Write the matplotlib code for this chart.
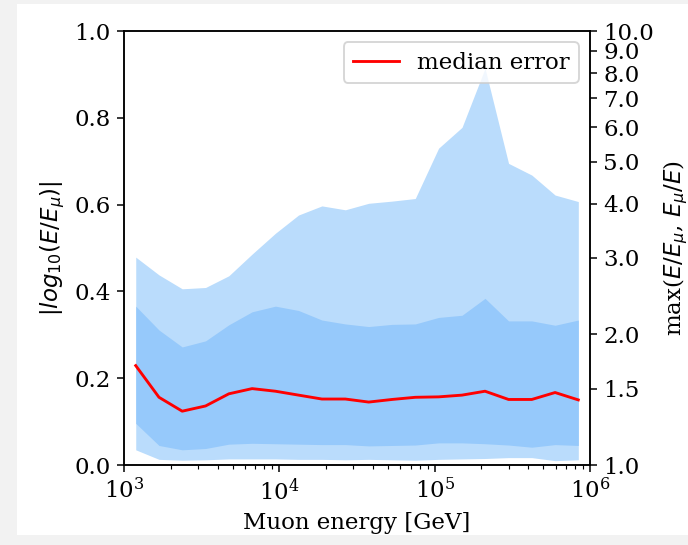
import matplotlib
matplotlib.use("Agg")
import matplotlib.pyplot as plt
import numpy as np
from matplotlib.patches import Rectangle

plt.rcParams["font.family"] = "serif"
plt.rcParams["font.size"] = 12

# bin centres in muon energy [GeV]
energy = [1190, 1680, 2370, 3350, 4730, 6680, 9440, 13300, 18800, 26600,
          37600, 53100, 75000, 106000, 150000, 211000, 299000, 422000, 596000, 841000]

# |log10(E/E_mu)| per bin
median_err = [0.229, 0.156, 0.124, 0.136, 0.164, 0.176, 0.170, 0.161, 0.152, 0.152,
              0.145, 0.151, 0.156, 0.157, 0.161, 0.170, 0.151, 0.151, 0.167, 0.150]
inner_lo = [0.096, 0.045, 0.035, 0.038, 0.048, 0.050, 0.049, 0.048, 0.047, 0.047,
            0.044, 0.045, 0.046, 0.051, 0.051, 0.049, 0.046, 0.041, 0.047, 0.045]
inner_hi = [0.366, 0.311, 0.272, 0.286, 0.323, 0.353, 0.366, 0.356, 0.334, 0.325,
            0.319, 0.324, 0.325, 0.340, 0.345, 0.384, 0.332, 0.332, 0.322, 0.334]
outer_lo = [0.035, 0.013, 0.011, 0.012, 0.014, 0.014, 0.014, 0.013, 0.013, 0.012,
            0.013, 0.012, 0.011, 0.013, 0.014, 0.015, 0.017, 0.017, 0.010, 0.012]
outer_hi = [0.479, 0.438, 0.406, 0.409, 0.436, 0.486, 0.534, 0.576, 0.597, 0.588,
            0.603, 0.608, 0.614, 0.730, 0.778, 0.914, 0.695, 0.668, 0.622, 0.607]

ratio_ticks = [1.0, 1.5, 2.0, 3.0, 4.0, 5.0, 6.0, 7.0, 8.0, 9.0, 10.0]

fig = plt.figure(figsize=(688 / 137, 545 / 137), dpi=137, facecolor="#f2f2f2")
# white page area behind the axes
fig.patches.append(Rectangle((17 / 688, 10 / 545), 1, 1 - 14 / 545,
                             transform=fig.transFigure, facecolor="white",
                             edgecolor="none", zorder=-10))

ax = fig.add_axes([124 / 688, 80 / 545, 466 / 688, 434 / 545])
ax.fill_between(energy, outer_lo, outer_hi, color="#badcfc", lw=0)
ax.fill_between(energy, inner_lo, inner_hi, color="#96c9fb", lw=0)
ax.plot(energy, median_err, color="red", label="median error")
ax.set_xscale("log")
ax.set_xlim(1e3, 1e6)
ax.set_ylim(0, 1)
ax.set_xlabel("Muon energy [GeV]")
ax.set_ylabel(r"$|log_{10}(E/E_\mu)|$")
ax.legend(loc="upper right")

ax2 = ax.twinx()
ax2.set_ylim(0, 1)
ax2.set_yticks(np.log10(ratio_ticks))
ax2.set_yticklabels(["%.1f" % t for t in ratio_ticks])
ax2.set_ylabel(r"max($E/E_\mu$, $E_\mu/E$)")

fig.savefig("out.png", dpi=137, facecolor=fig.get_facecolor())
